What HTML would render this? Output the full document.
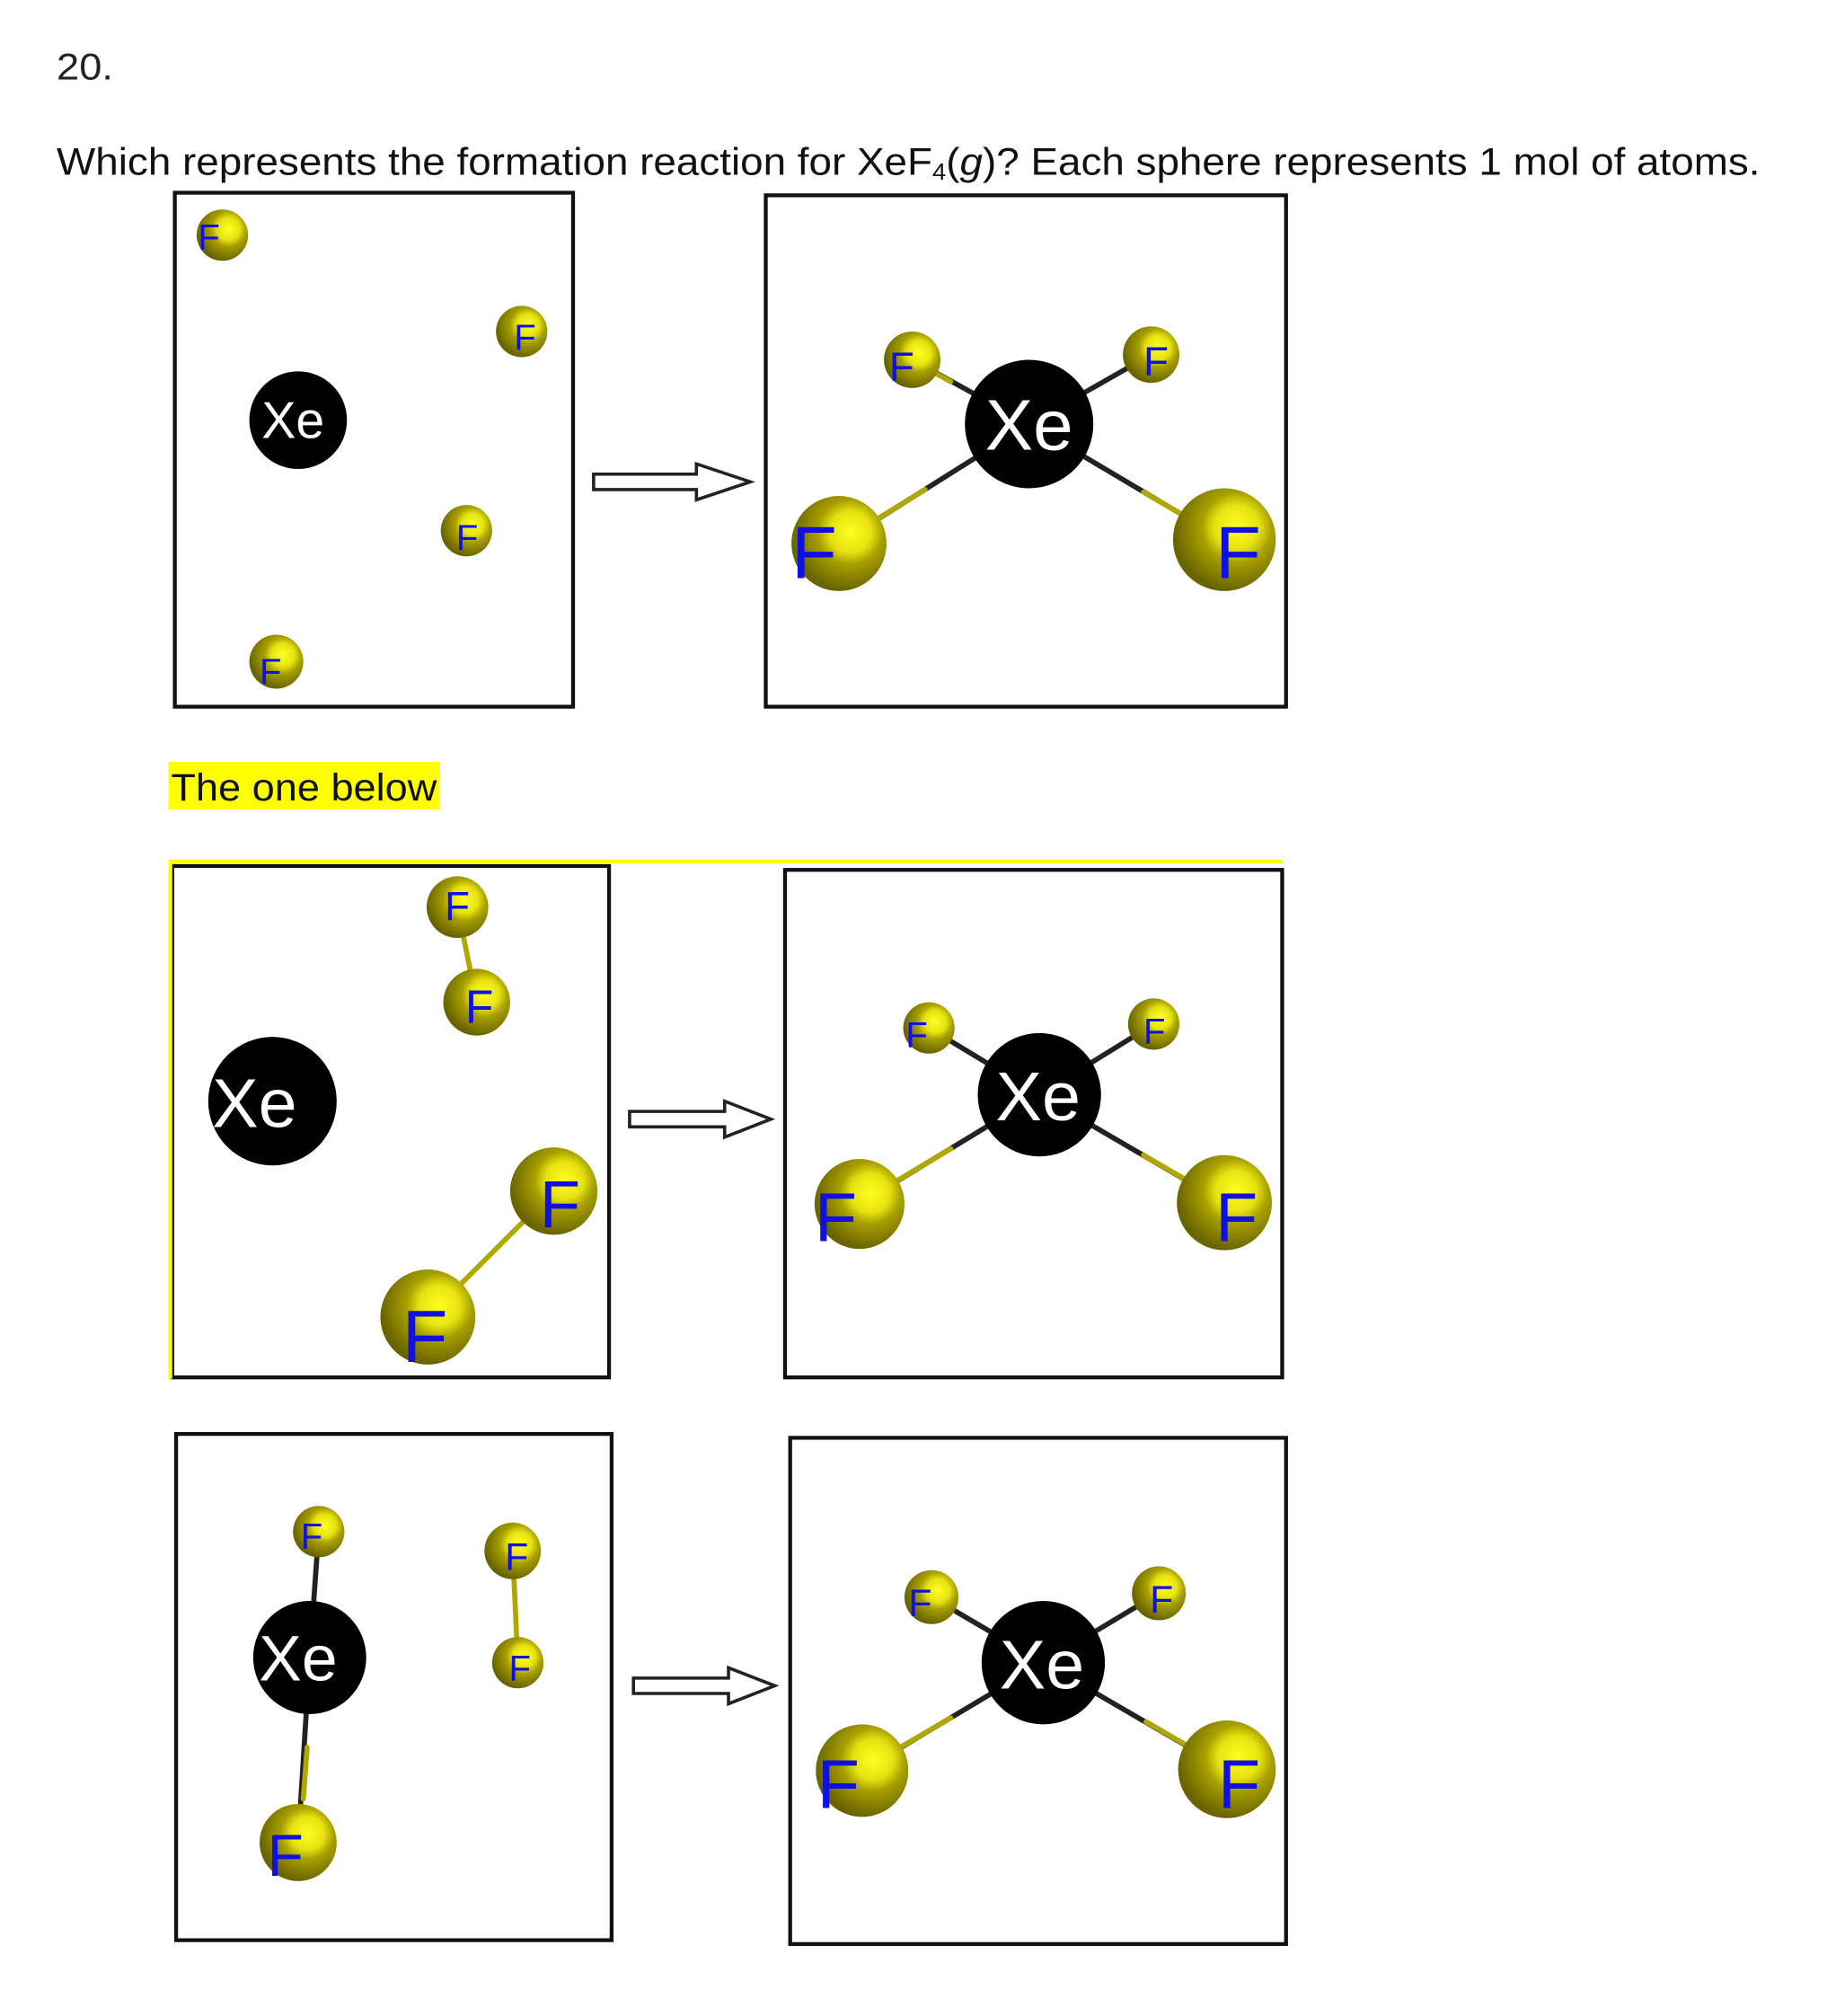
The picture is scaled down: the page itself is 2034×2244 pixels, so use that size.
<!DOCTYPE html>
<html><head><meta charset="utf-8"><style>
html,body{margin:0;padding:0;background:#fff;}
svg{display:block;}
</style></head><body>
<svg width="2034" height="2244" viewBox="0 0 1422 1569" xmlns="http://www.w3.org/2000/svg" font-family="Liberation Sans, Arial, sans-serif">
<defs>
<radialGradient id="fg" cx="0.62" cy="0.38" r="0.62">
<stop offset="0" stop-color="#ffff20"/>
<stop offset="0.35" stop-color="#e6e210"/>
<stop offset="0.55" stop-color="#a8a000"/>
<stop offset="1" stop-color="#6a6400"/>
</radialGradient>
</defs>
<rect width="1422" height="1569" fill="#fff"/>
<text x="44" y="62" font-size="29" fill="#222" textLength="44" lengthAdjust="spacingAndGlyphs">20.</text>
<text x="44" y="136" font-size="30" fill="#111" textLength="1326" lengthAdjust="spacingAndGlyphs">Which represents the formation reaction for XeF<tspan font-size="18" dy="4">4</tspan><tspan dy="-4">(</tspan><tspan font-style="italic">g</tspan>)? Each sphere represents 1 mol of atoms.</text>

<g fill="none" stroke="#111" stroke-width="3">
<rect x="136" y="150" width="310" height="400"/>
<rect x="596" y="152" width="405" height="398"/>
<rect x="134" y="674" width="340" height="398"/>
<rect x="611" y="677" width="387" height="395"/>
<rect x="137" y="1116" width="339" height="394"/>
<rect x="615" y="1119" width="386" height="394"/>
</g>
<rect x="131" y="593" width="211" height="37" fill="#ffff00"/>
<text x="133" y="623" font-size="30" fill="#111" textLength="207" lengthAdjust="spacingAndGlyphs">The one below</text>
<rect x="131" y="669" width="867" height="3" fill="#ffff00"/>
<rect x="131" y="669" width="3" height="404" fill="#ffff00"/>

<g fill="#fff" stroke="#222" stroke-width="2.5">
<path d="M462 369 H542 V361 L584 375 L542 389 V381 H462 Z"/>
<path d="M490 865 H564 V857 L600 871 L564 885 V877 H490 Z"/>
<path d="M493 1306 H567 V1298 L603 1312 L567 1326 V1318 H493 Z"/>
</g>

<g stroke-width="4" stroke-linecap="round">
<g stroke="#222">
<line x1="801" y1="330" x2="710" y2="280"/><line x1="801" y1="330" x2="896" y2="276"/>
<line x1="801" y1="330" x2="653" y2="423"/><line x1="801" y1="330" x2="953" y2="420"/>
<line x1="809" y1="852" x2="723" y2="800"/><line x1="809" y1="852" x2="898" y2="797"/>
<line x1="809" y1="852" x2="669" y2="937"/><line x1="809" y1="852" x2="953" y2="936"/>
<line x1="812" y1="1294" x2="725" y2="1243"/><line x1="812" y1="1294" x2="902" y2="1240"/>
<line x1="812" y1="1294" x2="671" y2="1378"/><line x1="812" y1="1294" x2="955" y2="1377"/>
<line x1="241" y1="1290" x2="248" y2="1192"/><line x1="241" y1="1290" x2="232" y2="1434"/>
</g>
<g stroke="#b0a800">
<line x1="356" y1="706" x2="371" y2="780"/><line x1="431" y1="927" x2="333" y2="1025"/>
<line x1="399" y1="1207" x2="403" y2="1294"/>
<line x1="720" y1="286" x2="740" y2="297"/><line x1="668" y1="413" x2="720" y2="381"/>
<line x1="940" y1="412" x2="890" y2="383"/>
<line x1="683" y1="928" x2="740" y2="894"/><line x1="940" y1="928" x2="890" y2="899"/>
<line x1="685" y1="1369" x2="740" y2="1337"/><line x1="942" y1="1369" x2="892" y2="1340"/>
<line x1="236" y1="1400" x2="239" y2="1360"/>
</g>
</g>

<g fill="#000">
<circle cx="232" cy="327" r="38"/><circle cx="801" cy="330" r="50"/>
<circle cx="212" cy="857" r="50"/><circle cx="809" cy="852" r="48"/>
<circle cx="241" cy="1290" r="44"/><circle cx="812" cy="1294" r="48"/>
</g>
<g fill="#fff" text-anchor="middle">
<text x="228" y="341" font-size="40">Xe</text>
<text x="801" y="350" font-size="56">Xe</text>
<text x="198" y="877" font-size="54">Xe</text>
<text x="808" y="872" font-size="54">Xe</text>
<text x="232" y="1308" font-size="50">Xe</text>
<text x="811" y="1314" font-size="54">Xe</text>
</g>

<g fill="url(#fg)">
<circle cx="173" cy="183" r="20"/><circle cx="406" cy="258" r="20"/><circle cx="363" cy="413" r="20"/><circle cx="215" cy="515" r="21"/>
<circle cx="710" cy="280" r="22"/><circle cx="896" cy="276" r="22"/><circle cx="653" cy="423" r="37"/><circle cx="953" cy="420" r="40"/>
<circle cx="356" cy="706" r="24"/><circle cx="371" cy="780" r="26"/><circle cx="431" cy="927" r="34"/><circle cx="333" cy="1025" r="37"/>
<circle cx="723" cy="800" r="20"/><circle cx="898" cy="797" r="20"/><circle cx="669" cy="937" r="35"/><circle cx="953" cy="936" r="37"/>
<circle cx="248" cy="1192" r="20"/><circle cx="232" cy="1434" r="30"/><circle cx="399" cy="1207" r="22"/><circle cx="403" cy="1294" r="20"/>
<circle cx="725" cy="1243" r="21"/><circle cx="902" cy="1240" r="21"/><circle cx="671" cy="1378" r="36"/><circle cx="955" cy="1377" r="38"/>
</g>
<g fill="#1010e0">
<text x="154" y="194" font-size="28">F</text>
<text x="400" y="272" font-size="28">F</text>
<text x="355" y="428" font-size="28">F</text>
<text x="202" y="532" font-size="28">F</text>
<text x="692" y="296" font-size="32">F</text>
<text x="890" y="292" font-size="32">F</text>
<text x="616" y="450" font-size="58">F</text>
<text x="946" y="450" font-size="58">F</text>
<text x="346" y="716" font-size="32">F</text>
<text x="362" y="796" font-size="36">F</text>
<text x="420" y="955" font-size="52">F</text>
<text x="313" y="1060" font-size="58">F</text>
<text x="705" y="815" font-size="28">F</text>
<text x="890" y="812" font-size="28">F</text>
<text x="634" y="966" font-size="54">F</text>
<text x="946" y="966" font-size="54">F</text>
<text x="234" y="1205" font-size="28">F</text>
<text x="208" y="1460" font-size="46">F</text>
<text x="393" y="1222" font-size="30">F</text>
<text x="396" y="1308" font-size="28">F</text>
<text x="707" y="1258" font-size="30">F</text>
<text x="895" y="1255" font-size="30">F</text>
<text x="636" y="1407" font-size="54">F</text>
<text x="948" y="1407" font-size="54">F</text>
</g>
</svg>
</body></html>
